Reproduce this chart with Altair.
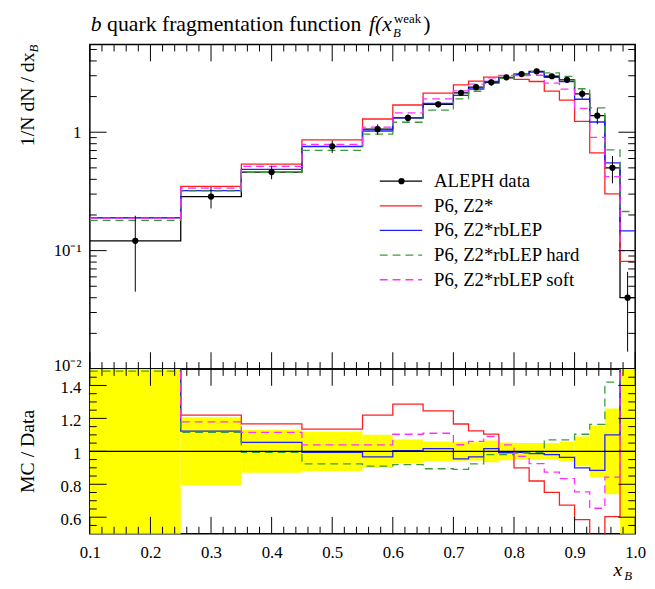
import altair as alt
import pandas as pd

# ---------------- data ----------------
edges = [0.1, 0.25, 0.35, 0.45, 0.55, 0.6, 0.65, 0.7, 0.725, 0.75, 0.775,
         0.8, 0.825, 0.85, 0.875, 0.9, 0.925, 0.95, 0.975, 1.0]
aleph = [0.121, 0.286, 0.461, 0.76, 1.06, 1.32, 1.72, 2.15, 2.40, 2.64,
         2.91, 3.10, 3.27, 2.97, 2.77, 2.11, 1.38, 0.50, 0.040]
aleph_err = [0.076, 0.059, 0.060, 0.091, 0.106, 0.095, 0.103, 0.123, 0.132, 0.174,
             0.157, 0.155, 0.164, 0.149, 0.166, 0.190, 0.214, 0.130, 0.026]
z2 = [0.19, 0.349, 0.538, 0.863, 1.293, 1.698, 2.143, 2.507, 2.698, 2.915,
      2.881, 2.79, 2.681, 2.228, 1.867, 1.236, 0.67, 0.302, 0.081]
rblep = [0.189, 0.321, 0.486, 0.755, 1.024, 1.325, 1.748, 2.051, 2.318, 2.682,
         2.893, 3.081, 3.224, 2.911, 2.670, 1.899, 1.220, 0.55, 0.147]
rblep_hard = [0.180, 0.319, 0.458, 0.702, 0.965, 1.214, 1.538, 1.914, 2.218, 2.587,
              2.852, 3.069, 3.250, 3.178, 2.964, 2.329, 1.606, 0.71, 0.214]
rblep_soft = [0.188, 0.337, 0.514, 0.790, 1.102, 1.457, 1.909, 2.236, 2.544, 2.878,
              3.026, 3.007, 3.028, 2.596, 2.310, 1.591, 0.903, 0.422, 0.10]

series_names = ["ALEPH data", "P6, Z2*", "P6, Z2*rbLEP", "P6, Z2*rbLEP hard", "P6, Z2*rbLEP soft"]
series_values = [aleph, z2, rblep, rblep_hard, rblep_soft]
series_colors = ["black", "#ff1f1f", "#1f1fff", "#3c9c3c", "#ff30ff"]
series_dash = [[1, 0], [1, 0], [1, 0], [8, 5], [8, 5]]

x_major = [0.1, 0.2, 0.3, 0.4, 0.5, 0.6, 0.7, 0.8, 0.9, 1.0]
x_labels = ["0.1", "0.2", "0.3", "0.4", "0.5", "0.6", "0.7", "0.8", "0.9", "1.0"]
x_minor = [round(0.1 + 0.02 * i, 2) for i in range(46) if i % 5 != 0]
ytop_major = [0.01, 0.1, 1.0]
ytop_labels = ["10⁻²", "10⁻¹", "1"]
ytop_minor = [round(m * 10.0 ** e, 4) for e in (-2, -1) for m in range(2, 10)] + [2, 3, 4, 5]
yrat_major = [0.6, 0.8, 1.0, 1.2, 1.4]
yrat_labels = ["0.6", "0.8", "1", "1.2", "1.4"]
yrat_minor = [0.55, 0.65, 0.7, 0.75, 0.85, 0.9, 0.95, 1.05, 1.1, 1.15, 1.25, 1.3, 1.35, 1.45]

# ---------------- layout ----------------
W, H1, H2 = 553, 329, 167
FONT = "Liberation Serif"
MAJ, MIN = 17, 7

xs = alt.Scale(domain=[0.1, 1.0], nice=False, zero=False)
ys_top = alt.Scale(type="log", domain=[0.01, 5.5], nice=False)
ys_rat = alt.Scale(domain=[0.5, 1.5], nice=False, zero=False)


def label_expr(vals, labels):
    s = ""
    for v, l in zip(vals, labels):
        s += f"abs(datum.value - {v}) < 1e-6 ? '{l}' : "
    return s + "''"


def make_axis(vals, labels, pad, offset=0):
    return alt.Axis(values=vals, labelExpr=label_expr(vals, labels), title=None,
                    ticks=False, tickSize=0, domain=False, grid=False, labelFont=FONT,
                    labelFontSize=17, labelColor="black", labelPadding=pad,
                    labelOverlap=False, labelFlush=False, labelOffset=offset)


ax_ytop = make_axis(ytop_major, ytop_labels, 9,
                    {"condition": {"test": "datum.value < 0.05", "value": -3}, "value": 0})
ax_yrat = make_axis(yrat_major, yrat_labels, 9, 2)
ax_xbot = make_axis(x_major, x_labels, 11)


def step_rows(values, name, divisor=None):
    rows = []
    for i, v in enumerate(values):
        r = v / divisor[i] if divisor is not None else v
        rows.append({"x": edges[i], "y": r, "series": name, "order": 2 * i})
        rows.append({"x": edges[i + 1], "y": r, "series": name, "order": 2 * i + 1})
    return rows


def xticks(h, xaxis):
    layers = []
    for vals, ln in ((x_major, MAJ), (x_minor, MIN)):
        d = pd.DataFrame({"v": vals})
        base = alt.Chart(d).mark_rule(color="black", strokeWidth=1)
        layers.append(base.encode(x=alt.X("v:Q", scale=xs, axis=xaxis),
                                  y=alt.value(h - ln), y2=alt.value(h)))
        layers.append(base.encode(x=alt.X("v:Q", scale=xs, axis=xaxis),
                                  y=alt.value(0), y2=alt.value(ln)))
    return layers


def yticks(vals_major, vals_minor, ys, yaxis):
    layers = []
    for vals, ln in ((vals_major, MAJ), (vals_minor, MIN)):
        d = pd.DataFrame({"v": vals})
        base = alt.Chart(d).mark_rule(color="black", strokeWidth=1)
        layers.append(base.encode(y=alt.Y("v:Q", scale=ys, axis=yaxis),
                                  x=alt.value(0), x2=alt.value(ln)))
        layers.append(base.encode(y=alt.Y("v:Q", scale=ys, axis=yaxis),
                                  x=alt.value(W - ln), x2=alt.value(W)))
    return layers


def text(t, x, y, size=21, style="normal", angle=0, align="left"):
    return alt.Chart(pd.DataFrame({"a": [0]})).mark_text(
        text=t, font=FONT, fontSize=size, fontStyle=style, angle=angle,
        align=align, baseline="alphabetic", color="black"
    ).encode(x=alt.value(x), y=alt.value(y))


# ---------------- top panel ----------------
top_rows = []
for name, vals in zip(series_names, series_values):
    top_rows += step_rows(vals, name)
top_df = pd.DataFrame(top_rows)

leg = alt.Legend(orient="none", legendX=293, legendY=126, title=None,
                 symbolType="stroke", symbolSize=1849, symbolStrokeWidth=1.3,
                 clipHeight=25, rowPadding=0, padding=0, labelFont=FONT,
                 labelFontSize=19, labelOffset=11, labelLimit=400, labelColor="black")

lines_top = alt.Chart(top_df).mark_line(strokeWidth=1.3, clip=True).encode(
    x=alt.X("x:Q", scale=xs, axis=None),
    y=alt.Y("y:Q", scale=ys_top, axis=ax_ytop),
    color=alt.Color("series:N", scale=alt.Scale(domain=series_names, range=series_colors), legend=leg),
    strokeDash=alt.StrokeDash("series:N", scale=alt.Scale(domain=series_names, range=series_dash), legend=leg),
    order="order:Q",
)

centers = [(edges[i] + edges[i + 1]) / 2 for i in range(len(aleph))]
pts_df = pd.DataFrame({
    "c": centers, "v": aleph,
    "lo": [v - e for v, e in zip(aleph, aleph_err)],
    "hi": [v + e for v, e in zip(aleph, aleph_err)],
    "kind": ["ALEPH data"] * len(aleph),
})

err_top = alt.Chart(pts_df).mark_rule(color="black", strokeWidth=1).encode(
    x=alt.X("c:Q", scale=xs, axis=None),
    y=alt.Y("lo:Q", scale=ys_top, axis=ax_ytop), y2="hi:Q")

dot_leg = alt.Legend(orient="none", legendX=311, legendY=126, title=None,
                     symbolType="circle", symbolSize=40, symbolFillColor="black",
                     symbolStrokeColor="black", symbolStrokeWidth=0, clipHeight=25,
                     padding=0, labelExpr="''", labelOffset=0)

pts_top = alt.Chart(pts_df).mark_point(filled=True, color="black", size=40, opacity=1).encode(
    x=alt.X("c:Q", scale=xs, axis=None),
    y=alt.Y("v:Q", scale=ys_top, axis=ax_ytop),
    shape=alt.Shape("kind:N", scale=alt.Scale(domain=["ALEPH data"], range=["circle"]), legend=dot_leg),
)

top_text = [
    text("b", 1, -14, 22, "italic"),
    text("quark fragmentation function", 17.5, -14, 22),
    text("f(x", 283, -14, 22, "italic"),
    text("weak", 308.5, -22, 13),
    text("B", 307.5, -8, 13, "italic"),
    text(")", 338, -14, 22),
    text("1/N  dN / dx", -57, 8, 20, "normal", 270, "right"),
    text("B", -53, 0, 13, "italic", 270, "right"),
]

top = alt.layer(lines_top, err_top, pts_top, *xticks(H1, None),
                *yticks(ytop_major, ytop_minor, ys_top, ax_ytop), *top_text).properties(width=W, height=H1)

# ---------------- ratio panel ----------------
band_df = pd.DataFrame({
    "lo": edges[:-1], "hi": edges[1:],
    "blo": [1 - e / v for v, e in zip(aleph, aleph_err)],
    "bhi": [1 + e / v for v, e in zip(aleph, aleph_err)],
})
band = alt.Chart(band_df).mark_rect(color="#ffff00", clip=True).encode(
    x=alt.X("lo:Q", scale=xs, axis=ax_xbot),
    x2="hi:Q",
    y=alt.Y("blo:Q", scale=ys_rat, axis=ax_yrat),
    y2="bhi:Q",
)

ratio_layers = []
for name, vals, col, dash in zip(series_names, series_values, series_colors, series_dash):
    d = pd.DataFrame(step_rows(vals, name, divisor=aleph))
    ratio_layers.append(
        alt.Chart(d).mark_line(color=col, strokeDash=dash, strokeWidth=1.3, clip=True).encode(
            x=alt.X("x:Q", scale=xs, axis=ax_xbot),
            y=alt.Y("y:Q", scale=ys_rat, axis=ax_yrat),
            order="order:Q"))

bottom_text = [
    text("MC / Data", -57, 83.5, 20, "normal", 270, "center"),
    text("x", 531, 210, 20, "italic"),
    text("B", 542, 214, 13, "italic"),
]

bottom = alt.layer(band, *ratio_layers[1:], ratio_layers[0], *xticks(H2, ax_xbot),
                   *yticks(yrat_major, yrat_minor, ys_rat, ax_yrat), *bottom_text).properties(width=W, height=H2)

chart = alt.vconcat(top, bottom, spacing=0, bounds="flush").properties(
    padding={"left": 9, "top": 0, "right": 0, "bottom": 0},
    background="white",
).configure_view(stroke="black", strokeWidth=1.5)

chart.save("out.html", embed_options={"renderer": "svg", "actions": False})
